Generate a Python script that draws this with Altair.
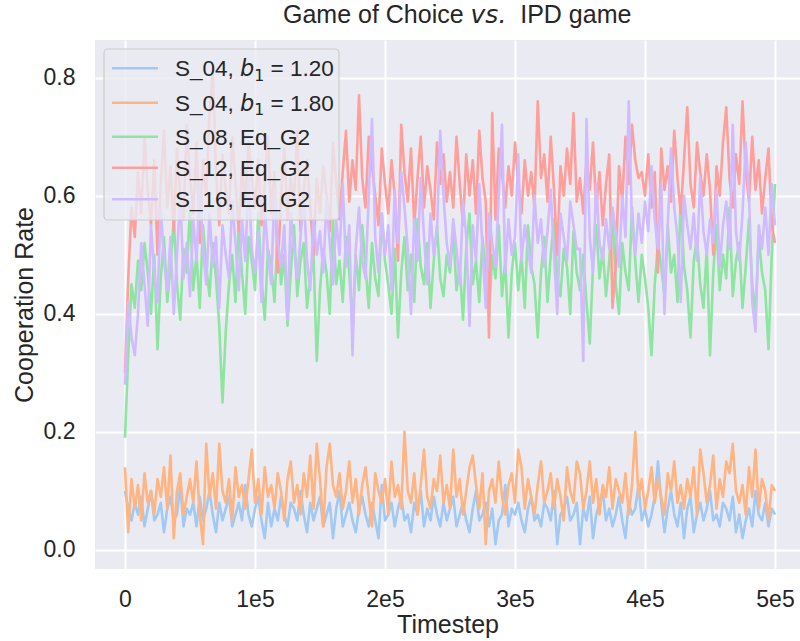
import altair as alt
import pandas as pd

# ---------------------------------------------------------------------------
# Cooperation rate sampled every 2 500 timesteps (0 ... 500 000)
# ---------------------------------------------------------------------------
STEP = 2500

s04_b120 = [
    0.10, 0.07, 0.05, 0.08, 0.06, 0.09, 0.04, 0.07, 0.10, 0.05, 0.06, 0.08, 0.03, 0.07, 0.09, 0.05, 0.06, 0.11, 0.04, 0.07,
    0.06, 0.08, 0.04, 0.09, 0.05, 0.07, 0.10, 0.06, 0.03, 0.08, 0.05, 0.07, 0.09, 0.04, 0.06, 0.08, 0.05, 0.11, 0.06, 0.04,
    0.07, 0.09, 0.05, 0.02, 0.08, 0.04, 0.07, 0.05, 0.09, 0.06, 0.04, 0.08, 0.07, 0.05, 0.10, 0.06, 0.03, 0.08, 0.05, 0.07,
    0.09, 0.04, 0.06, 0.08, 0.02, 0.07, 0.10, 0.04, 0.06, 0.08, 0.05, 0.03, 0.07, 0.09, 0.06, 0.04, 0.08, 0.05, 0.02, 0.11,
    0.05, 0.06, 0.08, 0.04, 0.07, 0.09, 0.05, 0.06, 0.03, 0.08, 0.06, 0.10, 0.04, 0.07, 0.05, 0.09, 0.06, 0.04, 0.08, 0.05,
    0.07, 0.09, 0.04, 0.06, 0.08, 0.05, 0.03, 0.07, 0.10, 0.05, 0.06, 0.08, 0.04, 0.07, 0.01, 0.05, 0.06, 0.11, 0.04, 0.07,
    0.06, 0.08, 0.05, 0.03, 0.07, 0.09, 0.05, 0.06, 0.04, 0.08, 0.07, 0.05, 0.10, 0.01, 0.06, 0.07, 0.09, 0.05, 0.06, 0.08,
    0.01, 0.07, 0.05, 0.09, 0.02, 0.06, 0.08, 0.10, 0.05, 0.07, 0.04, 0.06, 0.09, 0.05, 0.02, 0.08, 0.06, 0.07, 0.11, 0.05,
    0.07, 0.04, 0.06, 0.09, 0.15, 0.08, 0.03, 0.07, 0.10, 0.06, 0.04, 0.08, 0.02, 0.07, 0.09, 0.03, 0.06, 0.08, 0.05, 0.07,
    0.10, 0.05, 0.06, 0.04, 0.08, 0.07, 0.05, 0.09, 0.03, 0.06, 0.02, 0.05, 0.07, 0.04, 0.10, 0.06, 0.05, 0.08, 0.04, 0.07, 0.06,
]

s04_b180 = [
    0.14, 0.03, 0.12, 0.07, 0.11, 0.05, 0.13, 0.08, 0.10, 0.06, 0.12, 0.09, 0.14, 0.07, 0.16, 0.02, 0.10, 0.13, 0.06, 0.09,
    0.12, 0.08, 0.15, 0.06, 0.01, 0.18, 0.09, 0.13, 0.07, 0.18, 0.10, 0.08, 0.12, 0.05, 0.14, 0.09, 0.11, 0.07, 0.12, 0.17,
    0.08, 0.12, 0.06, 0.14, 0.09, 0.11, 0.07, 0.13, 0.10, 0.05, 0.12, 0.15, 0.08, 0.11, 0.06, 0.13, 0.09, 0.16, 0.07, 0.18,
    0.12, 0.04, 0.14, 0.18, 0.11, 0.09, 0.13, 0.07, 0.10, 0.15, 0.08, 0.12, 0.06, 0.11, 0.14, 0.09, 0.04, 0.13, 0.10, 0.08,
    0.12, 0.06, 0.15, 0.09, 0.11, 0.07, 0.20, 0.10, 0.08, 0.13, 0.06, 0.11, 0.17, 0.09, 0.07, 0.12, 0.10, 0.16, 0.08, 0.11,
    0.07, 0.17, 0.09, 0.12, 0.06, 0.10, 0.14, 0.16, 0.11, 0.07, 0.13, 0.01, 0.10, 0.12, 0.08, 0.15, 0.09, 0.06, 0.11, 0.13,
    0.08, 0.17, 0.14, 0.07, 0.12, 0.09, 0.06, 0.11, 0.15, 0.08, 0.10, 0.13, 0.07, 0.12, 0.09, 0.05, 0.14, 0.10, 0.08, 0.15,
    0.13, 0.07, 0.10, 0.15, 0.08, 0.12, 0.06, 0.11, 0.09, 0.14, 0.07, 0.12, 0.10, 0.08, 0.13, 0.06, 0.11, 0.20, 0.09, 0.12,
    0.07, 0.10, 0.14, 0.08, 0.12, 0.09, 0.06, 0.13, 0.10, 0.15, 0.08, 0.11, 0.07, 0.12, 0.09, 0.14, 0.06, 0.17, 0.13, 0.08,
    0.11, 0.16, 0.07, 0.12, 0.09, 0.15, 0.13, 0.18, 0.10, 0.08, 0.11, 0.06, 0.14, 0.09, 0.17, 0.07, 0.12, 0.10, 0.05, 0.11, 0.10,
]

s08_eq = [
    0.19, 0.33, 0.45, 0.41, 0.49, 0.44, 0.52, 0.47, 0.40, 0.50, 0.34, 0.46, 0.53, 0.42, 0.48, 0.56, 0.45, 0.39, 0.51, 0.47,
    0.58, 0.44, 0.50, 0.41, 0.55, 0.48, 0.43, 0.52, 0.46, 0.38, 0.25, 0.37, 0.45, 0.50, 0.42, 0.55, 0.47, 0.40, 0.53, 0.49,
    0.44, 0.57, 0.46, 0.39, 0.51, 0.48, 0.42, 0.54, 0.45, 0.50, 0.38, 0.47, 0.55, 0.43, 0.49, 0.52, 0.41, 0.46, 0.50, 0.32,
    0.44, 0.51, 0.47, 0.40, 0.56, 0.45, 0.49, 0.42, 0.53, 0.47, 0.38, 0.50, 0.44, 0.55, 0.48, 0.41, 0.52, 0.46, 0.43, 0.57,
    0.49, 0.45, 0.40, 0.51, 0.36, 0.47, 0.53, 0.44, 0.50, 0.42, 0.56, 0.48, 0.45, 0.52, 0.41, 0.49, 0.55, 0.46, 0.43, 0.50,
    0.47, 0.54, 0.44, 0.48, 0.39, 0.51, 0.57, 0.45, 0.49, 0.42, 0.53, 0.47, 0.40, 0.50, 0.46, 0.55, 0.43, 0.49, 0.36, 0.47,
    0.52, 0.44, 0.50, 0.41, 0.55, 0.48, 0.45, 0.36, 0.47, 0.53, 0.42, 0.50, 0.56, 0.46, 0.43, 0.51, 0.48, 0.40, 0.54, 0.47,
    0.44, 0.50, 0.42, 0.35, 0.48, 0.55, 0.46, 0.51, 0.43, 0.49, 0.57, 0.45, 0.40, 0.52, 0.47, 0.44, 0.58, 0.49, 0.42, 0.50,
    0.46, 0.41, 0.33, 0.45, 0.52, 0.48, 0.43, 0.55, 0.47, 0.50, 0.42, 0.60, 0.48, 0.44, 0.36, 0.49, 0.53, 0.45, 0.41, 0.51,
    0.33, 0.47, 0.55, 0.44, 0.50, 0.46, 0.58, 0.43, 0.49, 0.52, 0.41, 0.48, 0.56, 0.45, 0.40, 0.53, 0.47, 0.44, 0.34, 0.50, 0.62,
]

s12_eq = [
    0.30, 0.46, 0.58, 0.53, 0.64, 0.57, 0.70, 0.61, 0.55, 0.66, 0.50, 0.62, 0.71, 0.58, 0.65, 0.54, 0.68, 0.60, 0.56, 0.72,
    0.63, 0.57, 0.69, 0.52, 0.66, 0.60, 0.74, 0.81, 0.64, 0.55, 0.67, 0.61, 0.57, 0.70, 0.62, 0.54, 0.65, 0.59, 0.69, 0.63,
    0.58, 0.66, 0.55, 0.62, 0.70, 0.57, 0.64, 0.47, 0.60, 0.68, 0.56, 0.63, 0.59, 0.71, 0.54, 0.61, 0.66, 0.58, 0.50, 0.63,
    0.57, 0.65, 0.60, 0.54, 0.69, 0.62, 0.56, 0.64, 0.71, 0.59, 0.66, 0.61, 0.77, 0.63, 0.58, 0.70, 0.65, 0.60, 0.55, 0.68,
    0.62, 0.57, 0.66, 0.60, 0.49, 0.72, 0.64, 0.59, 0.68, 0.55, 0.63, 0.70, 0.58, 0.65, 0.61, 0.56, 0.69, 0.62, 0.67, 0.59,
    0.64, 0.58, 0.70, 0.62, 0.55, 0.67, 0.60, 0.66, 0.57, 0.71, 0.63, 0.59, 0.36, 0.74, 0.56, 0.68, 0.64, 0.58, 0.65, 0.60,
    0.69, 0.62, 0.57, 0.66, 0.60, 0.64, 0.58, 0.76, 0.63, 0.67, 0.59, 0.70, 0.61, 0.50, 0.65, 0.60, 0.68, 0.62, 0.74, 0.59,
    0.63, 0.57, 0.66, 0.61, 0.69, 0.58, 0.64, 0.55, 0.62, 0.67, 0.41, 0.48, 0.65, 0.59, 0.70, 0.62, 0.72, 0.66, 0.63, 0.64,
    0.60, 0.67, 0.58, 0.64, 0.47, 0.68, 0.61, 0.65, 0.59, 0.71, 0.63, 0.57, 0.66, 0.75, 0.62, 0.58, 0.69, 0.64, 0.60, 0.67,
    0.61, 0.50, 0.65, 0.60, 0.69, 0.75, 0.63, 0.58, 0.67, 0.62, 0.76, 0.64, 0.59, 0.70, 0.61, 0.66, 0.57, 0.63, 0.68, 0.55, 0.52,
]

s16_eq = [
    0.28, 0.42, 0.36, 0.33, 0.40, 0.52, 0.45, 0.38, 0.55, 0.47, 0.42, 0.58, 0.49, 0.44, 0.53, 0.40, 0.50, 0.60, 0.46, 0.52,
    0.43, 0.56, 0.49, 0.62, 0.51, 0.45, 0.57, 0.48, 0.53, 0.41, 0.55, 0.50, 0.46, 0.59, 0.52, 0.44, 0.56, 0.49, 0.63, 0.51,
    0.47, 0.54, 0.42, 0.58, 0.50, 0.45, 0.61, 0.52, 0.48, 0.55, 0.39, 0.57, 0.51, 0.46, 0.53, 0.60, 0.49, 0.44, 0.56, 0.50,
    0.54, 0.47, 0.59, 0.52, 0.45, 0.56, 0.50, 0.62, 0.48, 0.55, 0.33, 0.51, 0.58, 0.49, 0.46, 0.60, 0.73, 0.53, 0.47, 0.57,
    0.50, 0.55, 0.44, 0.61, 0.52, 0.64, 0.58, 0.51, 0.40, 0.56, 0.49, 0.63, 0.53, 0.45, 0.57, 0.50, 0.54, 0.71, 0.60, 0.52,
    0.48, 0.56, 0.51, 0.45, 0.59, 0.53, 0.38, 0.55, 0.49, 0.62, 0.51, 0.41, 0.57, 0.52, 0.48, 0.60, 0.72, 0.47, 0.56, 0.50,
    0.53, 0.67, 0.49, 0.55, 0.51, 0.47, 0.60, 0.52, 0.56, 0.48, 0.54, 0.61, 0.50, 0.40, 0.57, 0.53, 0.49, 0.59, 0.55, 0.51,
    0.51, 0.32, 0.73, 0.53, 0.47, 0.62, 0.52, 0.49, 0.56, 0.51, 0.58, 0.54, 0.48, 0.60, 0.53, 0.76, 0.55, 0.50, 0.57, 0.52,
    0.59, 0.54, 0.65, 0.56, 0.51, 0.62, 0.40, 0.55, 0.68, 0.58, 0.53, 0.42, 0.60, 0.55, 0.51, 0.57, 0.49, 0.63, 0.54, 0.50,
    0.56, 0.52, 0.61, 0.48, 0.55, 0.59, 0.51, 0.72, 0.54, 0.49, 0.57, 0.69, 0.60, 0.42, 0.37, 0.55, 0.51, 0.58, 0.50, 0.62, 0.55,
]

series = [s04_b120, s04_b180, s08_eq, s12_eq, s16_eq]
colors = ["#a1c9f4", "#ffb482", "#8de5a1", "#ff9f9b", "#d0bbff"]

# legend label pieces: (prefix, math symbol, subscript, suffix)
legend_labels = [
    ("S_04,", "b", "1", "= 1.20"),
    ("S_04,", "b", "1", "= 1.80"),
    ("S_08, Eq_G2", "", "", ""),
    ("S_12, Eq_G2", "", "", ""),
    ("S_16, Eq_G2", "", "", ""),
]

x_ticks = [0, 100000, 200000, 300000, 400000, 500000]
y_ticks = [0.0, 0.2, 0.4, 0.6, 0.8]

TEXT = "#262626"
SANS = "Liberation Sans, Arial, sans-serif"
MATH = "DejaVu Sans"

# advance widths (per em) used to place the mixed-style text runs
SANS_W = {" ": .278, ",": .278, ".": .278, "_": .556, "=": .584, "S": .667, "E": .667,
          "q": .556, "G": .778, "I": .278, "P": .667, "D": .722, "C": .722, "a": .556,
          "m": .833, "e": .556, "o": .556, "f": .278, "h": .556, "i": .222, "c": .5, "g": .556}
MATH_W = {"b": .635, "v": .592, "s": .521, ".": .318, "1": .636}


def run_width(text, size, table):
    return sum(table.get(ch, .556) for ch in text) * size


W, H = 705, 529
x_scale = alt.Scale(domain=[-23077, 519231], nice=False, zero=False)
y_scale = alt.Scale(domain=[-0.0322, 0.8638], nice=False, zero=False)

x_axis = alt.Axis(
    values=x_ticks,
    labelExpr="datum.value == 0 ? '0' : format(datum.value / 100000, 'd') + 'e5'",
    title="Timestep", grid=True, gridColor="white", gridWidth=2,
    domain=False, ticks=False, labelFontSize=23, titleFontSize=25,
    labelFont=SANS, titleFont=SANS, labelColor=TEXT, titleColor=TEXT,
    titleFontWeight="normal", labelPadding=19, titlePadding=1, labelFlush=False,
)
y_axis = alt.Axis(
    values=y_ticks, format=".1f", title="Cooperation Rate", grid=True,
    gridColor="white", gridWidth=2, domain=False, ticks=False,
    labelFontSize=23, titleFontSize=25, labelFont=SANS, titleFont=SANS,
    labelColor=TEXT, titleColor=TEXT, titleFontWeight="normal",
    labelPadding=20, titlePadding=6, labelFlush=False,
)

LINE_W = 2.6

layers = []
for vals, col in zip(series, colors):
    df = pd.DataFrame({"t": [i * STEP for i in range(len(vals))], "rate": vals})
    layers.append(
        alt.Chart(df).mark_line(color=col, strokeWidth=LINE_W, strokeJoin="round", clip=True).encode(
            x=alt.X("t:Q", scale=x_scale, axis=x_axis),
            y=alt.Y("rate:Q", scale=y_scale, axis=y_axis),
        )
    )

one = pd.DataFrame({"k": [0]})


def text_mark(txt, x, y, size, font, style="normal", align="left"):
    return alt.Chart(one).mark_text(
        text=txt, fontSize=size, font=font, fontStyle=style, color=TEXT,
        align=align, baseline="alphabetic",
    ).encode(x=alt.value(x), y=alt.value(y))


# legend frame
layers.append(
    alt.Chart(one).mark_rect(
        fill="#eaeaf2", fillOpacity=0.8, stroke="#cccccc", strokeWidth=1.2, cornerRadius=4,
    ).encode(x=alt.value(9), x2=alt.value(244), y=alt.value(9), y2=alt.value(180))
)

row_y = [28.3, 62.7, 96.7, 127.7, 159.3]
LEG = 22.5
SPACE = run_width(" ", LEG, SANS_W)
for (prefix, sym, sub, suffix), col, ry in zip(legend_labels, colors, row_y):
    layers.append(
        alt.Chart(one).mark_rule(color=col, strokeWidth=LINE_W).encode(
            x=alt.value(17), x2=alt.value(63), y=alt.value(ry)
        )
    )
    base = ry + 8
    x0 = 80
    layers.append(text_mark(prefix, x0, base, LEG, SANS))
    if sym:
        x1 = x0 + run_width(prefix, LEG, SANS_W) + SPACE
        layers.append(text_mark(sym, x1, base, LEG, MATH, "italic"))
        x2 = x1 + run_width(sym, LEG, MATH_W)
        layers.append(text_mark(sub, x2, base + 4.5, LEG * 0.7, MATH))
        x3 = x2 + run_width(sub, LEG * 0.7, MATH_W) + SPACE
        layers.append(text_mark(suffix, x3, base, LEG, SANS))

# title with an italic "vs."
TS = 25
t_left, t_base = 188, -17
part1, part2, part3 = "Game of Choice", "vs.", "IPD game"
p2x = t_left + run_width(part1 + " ", TS, SANS_W)
p3x = p2x + run_width(part2, TS, MATH_W) + 2 * run_width(" ", TS, SANS_W)
layers.append(text_mark(part1, t_left, t_base, TS, SANS))
layers.append(text_mark(part2, p2x, t_base, TS, MATH, "italic"))
layers.append(text_mark(part3, p3x, t_base, TS, SANS))

chart = (
    alt.layer(*layers)
    .properties(
        width=W, height=H,
        padding={"left": 95, "top": 40, "right": 0, "bottom": 72},
        autosize=alt.AutoSizeParams(type="none"),
        background="white",
    )
    .configure_view(fill="#eaeaf2", strokeWidth=0)
)

chart.save("out.html", embed_options={"renderer": "svg", "actions": False})
